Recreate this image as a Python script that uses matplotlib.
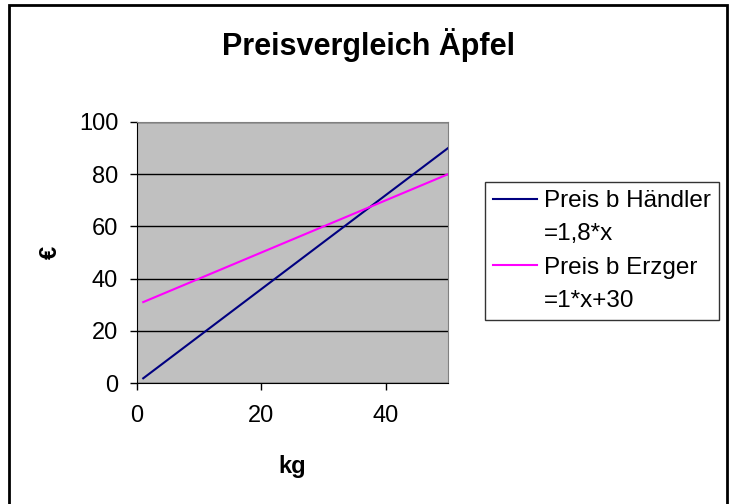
import matplotlib.pyplot as plt
from matplotlib.patches import Rectangle
from matplotlib.lines import Line2D

plt.rcParams['font.family'] = ['Liberation Sans', 'DejaVu Sans']

# data (kg -> price in EUR)
kg = [1, 2, 3, 4, 5, 6, 7, 8, 9, 10, 11, 12, 13, 14, 15, 16, 17, 18, 19, 20,
      21, 22, 23, 24, 25, 26, 27, 28, 29, 30, 31, 32, 33, 34, 35, 36, 37, 38, 39, 40,
      41, 42, 43, 44, 45, 46, 47, 48, 49, 50]
preis_haendler = [1.8, 3.6, 5.4, 7.2, 9.0, 10.8, 12.6, 14.4, 16.2, 18.0,
                  19.8, 21.6, 23.4, 25.2, 27.0, 28.8, 30.6, 32.4, 34.2, 36.0,
                  37.8, 39.6, 41.4, 43.2, 45.0, 46.8, 48.6, 50.4, 52.2, 54.0,
                  55.8, 57.6, 59.4, 61.2, 63.0, 64.8, 66.6, 68.4, 70.2, 72.0,
                  73.8, 75.6, 77.4, 79.2, 81.0, 82.8, 84.6, 86.4, 88.2, 90.0]
preis_erzeuger = [31, 32, 33, 34, 35, 36, 37, 38, 39, 40,
                  41, 42, 43, 44, 45, 46, 47, 48, 49, 50,
                  51, 52, 53, 54, 55, 56, 57, 58, 59, 60,
                  61, 62, 63, 64, 65, 66, 67, 68, 69, 70,
                  71, 72, 73, 74, 75, 76, 77, 78, 79, 80]
labels = [['Preis b Händler', '=1,8*x'], ['Preis b Erzger', '=1*x+30']]
x_ticks = [0, 20, 40]
y_ticks = [0, 20, 40, 60, 80, 100]

W, H = 734, 504
fig = plt.figure(figsize=(W / 100, H / 100), dpi=100)

# outer chart frame
fig.patches.append(Rectangle((9 / W, -0.05), 718 / W, 1.05 - 5 / H,
                             transform=fig.transFigure, fill=False,
                             edgecolor='black', linewidth=2))

ax = fig.add_axes([137 / W, 1 - 383 / H, 311 / W, 261 / H])
ax.set_facecolor('#C0C0C0')
l1, = ax.plot(kg, preis_haendler, color='#000080', linewidth=1.5)
l2, = ax.plot(kg, preis_erzeuger, color='#FF00FF', linewidth=1.5)

ax.set_xlim(0, 50)
ax.set_ylim(0, 100)
ax.set_xticks(x_ticks)
ax.set_yticks(y_ticks)
ax.yaxis.grid(True, color='black', linewidth=1)
ax.set_axisbelow(True)
ax.tick_params(direction='out', length=5, width=1, labelsize=17)
ax.tick_params(axis='x', pad=11)
ax.tick_params(axis='y', pad=8.5)
for side in ['top', 'right']:
    ax.spines[side].set_color('#808080')
for side in ['left', 'bottom']:
    ax.spines[side].set_color('black')

fig.text(292 / W, 1 - 466 / H, 'kg', fontsize=17, fontweight='bold',
         ha='center', va='center')
fig.text(50 / W, 1 - 252 / H, '€', fontsize=17, fontweight='bold',
         rotation=90, ha='center', va='center')
fig.text(368 / W, 1 - 45 / H, 'Preisvergleich Äpfel', fontsize=22,
         fontweight='bold', ha='center', va='center')

# two-line legend labels: second line gets an empty handle
blank = Line2D([], [], color='none')
handles = [l1, blank, l2, blank]
leg_labels = [labels[0][0], labels[0][1], labels[1][0], labels[1][1]]
leg = ax.legend(handles, leg_labels, loc='upper left',
                bbox_to_anchor=(485 / W, 1 - 182 / H),
                bbox_transform=fig.transFigure, borderaxespad=0,
                fontsize=17.5, frameon=True, fancybox=False, handlelength=1.8,
                handletextpad=0.3, labelspacing=0.47, borderpad=0.33)
leg.get_frame().set_edgecolor('black')
leg.get_frame().set_linewidth(1)

fig.savefig('out.png', dpi=100)
